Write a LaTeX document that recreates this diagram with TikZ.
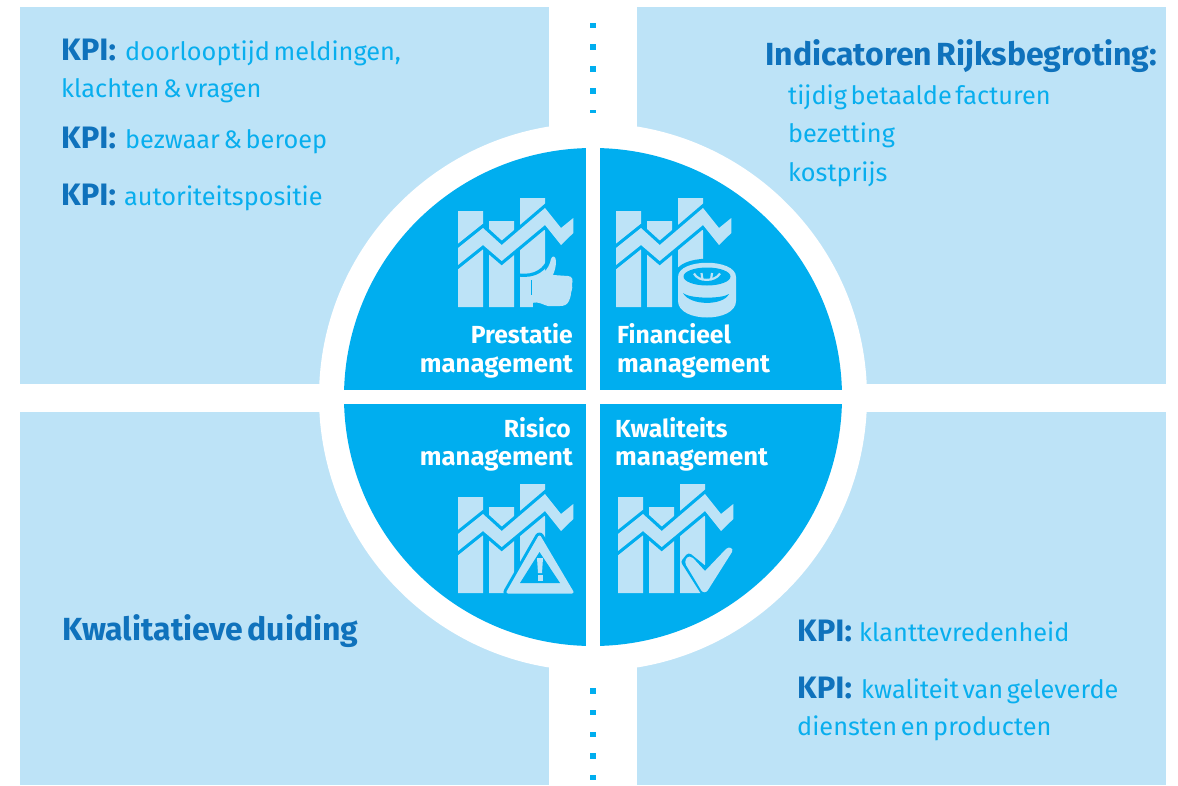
\documentclass[tikz,border=0pt]{standalone}
\usepackage{fontspec}
\setmainfont{Fira Sans}[WordSpace=0.55]
\definecolor{panel}{HTML}{BDE3F7}
\definecolor{disc}{HTML}{00AEEF}
\definecolor{kpi}{HTML}{0F72BC}
\definecolor{body}{HTML}{08AEEE}
\tikzset{
  panelbox/.style={fill=panel,draw=none},
  kpilab/.style={anchor=base west,inner sep=0pt,text=kpi,font=\fontsize{31}{31}\selectfont\bfseries},
  bodylab/.style={anchor=base west,inner sep=0pt,text=body,font=\fontsize{25.3}{26}\selectfont},
  headlab/.style={anchor=base west,inner sep=0pt,text=kpi,font=\fontsize{32}{33}\selectfont\bfseries},
  quadlab/.style={inner sep=0pt,text=white,font=\fontsize{25.7}{28}\selectfont\bfseries},
  quadtop/.style={inner sep=0pt,text=white,font=\fontsize{24.7}{28}\selectfont\bfseries},
  dotmark/.style={fill=disc,draw=none},
  halo/.style={draw=disc,line width=#1,line join=round,line cap=round},
  halo/.default=7pt
}
\newcommand{\chartbars}[2]{%
\begin{scope}[shift={(#1,#2)}]
 \fill[panel] (0,0) rectangle (25,96) (31,10) rectangle (56,96) (62,-13) rectangle (87,96);
 \draw[halo=6.5pt,line join=miter] (0,37) -- (25,17) -- (43.7,34) -- (87,-3) -- (103,17) -- (115.3,7)
   -- (115.3,22) -- (103,34) -- (87,14) -- (43.7,50) -- (25,34) -- (0,54) -- cycle;
 \fill[panel] (0,37) -- (25,17) -- (43.7,34) -- (87,-3) -- (103,17) -- (115.3,7)
   -- (115.3,22) -- (103,34) -- (87,14) -- (43.7,50) -- (25,34) -- (0,54) -- cycle;
\end{scope}}
\begin{document}
\begin{tikzpicture}[x=1pt,y=-1pt]
\useasboundingbox (0,0) rectangle (1178,785);
\fill[white] (0,0) rectangle (1178,785);
\fill[panelbox] (20,7) rectangle (549,384);
\fill[panelbox] (637,7) rectangle (1166,384);
\fill[panelbox] (20,412) rectangle (549,785);
\fill[panelbox] (637,412) rectangle (1166,785);
\fill[white] (593,397) circle[radius=274];
\begin{scope}
 \clip (593,397) circle[radius=249];
 \fill[disc] (340,140) rectangle (586,390);
 \fill[disc] (600,140) rectangle (850,390);
 \fill[disc] (340,404) rectangle (586,650);
 \fill[disc] (600,404) rectangle (850,650);
\end{scope}
% dots
\foreach \y in {25.5,47,69,91}{\fill[dotmark] (590,\y-2.7) rectangle (596,\y+2.7);}
\fill[dotmark] (590,109.5) rectangle (596,113);
\foreach \y in {691,712.5,734.5,756,777.5}{\fill[dotmark] (590,\y-2.7) rectangle (596,\y+2.7);}
% icons
\chartbars{458}{211}
\chartbars{616}{211}
\chartbars{458}{497}
\chartbars{618}{497}
% thumb
\fill[disc] (533,280) rectangle (548,309);
\draw[disc,line width=3.2pt] (519,275) .. controls (535,277) and (546,270) .. (550,256);
\fill[panel]
  (532,279) .. controls (541,276) and (549,270) .. (551,259) .. controls (552,255) and (556,256) .. (556,261)
  .. controls (556,266) and (555,270) .. (553,275) -- (568,276) .. controls (573,276) and (573,281) .. (572,284)
  .. controls (573,289) and (571,292) .. (571,293) .. controls (571,297) and (569,300) .. (569,301)
  .. controls (567,305) and (564,306) .. (560,306) -- (548,306)
  .. controls (543,305) and (539,301) .. (532,303) -- (529,307) -- (529,294) -- cycle;
\draw[disc,line width=1.4pt] (531.5,280) -- (531.5,295);
% coins
\draw[halo=8pt]
  (678,277) .. controls (678,258) and (736,258) .. (736,277) -- (736,301)
  .. controls (736,323) and (678,323) .. (678,301) -- cycle;
\fill[panel]
  (678,277) .. controls (678,258) and (736,258) .. (736,277) -- (736,301)
  .. controls (736,323) and (678,323) .. (678,301) -- cycle;
\fill[disc] (707,276.5) ellipse[x radius=23.5,y radius=9];
\fill[disc] (683,293) .. controls (690,299) and (722,299) .. (729,294)
  .. controls (723,306) and (690,306) .. (683,293) -- cycle;
\draw[panel,line width=2.2pt] (694,273.5) .. controls (698,282) and (715,282) .. (720,273.5);
\draw[panel,line width=2.2pt] (701.5,273) -- (702.5,280) (712,273) -- (711,280);
% warning
\draw[halo=9pt] (539.5,537) -- (572,592) -- (508,592) -- cycle;
\draw[panel,fill=panel,line width=3pt,line join=round] (539.5,537) -- (572,592) -- (508,592) -- cycle;
\fill[disc] (539.5,552) -- (560,583) -- (520,583) -- cycle;
\fill[panel] (537,558) -- (543,558) -- (542,573) -- (538,573) -- cycle;
\fill[panel] (537.5,575) rectangle (542.5,581);
% check
\draw[halo=7pt]
  (689,557) -- (705,570) -- (729,547) -- (733,551) -- (706,592) -- (704,592) -- (685,562) -- cycle;
\fill[panel]
  (686,559) .. controls (688,556) and (691,556) .. (693,558) -- (705,571) -- (726,549)
  .. controls (729,546) and (734,548) .. (732,552) -- (708,590) .. controls (706,593) and (703,593) .. (701,590)
  -- (686,565) .. controls (685,563) and (685,561) .. (686,559) -- cycle;
% quadrant labels
\node[quadtop,anchor=base east] (q1a) at (573,343) {Prestatie};
\node[quadlab,anchor=base east] (q1b) at (573,372) {management};
\node[quadtop,anchor=base west] (q2a) at (617,343) {Financieel};
\node[quadlab,anchor=base west] (q2b) at (617,372) {management};
\node[quadtop,anchor=base east] (q3a) at (571,437) {Risico};
\node[quadlab,anchor=base east] (q3b) at (573,465) {management};
\node[quadtop,anchor=base west] (q4a) at (615,437) {Kwaliteits};
\node[quadlab,anchor=base west] (q4b) at (615,465) {management};
% top-left
\node[kpilab] (a1) at (61,60) {KPI:};
\node[bodylab] (a2) at (125,60) {doorlooptijd meldingen,};
\node[bodylab] (a3) at (61,97) {klachten \& vragen};
\node[kpilab] (a4) at (61,148) {KPI:};
\node[bodylab] (a5) at (125,148) {bezwaar \& beroep};
\node[kpilab] (a6) at (61,205) {KPI:};
\node[bodylab] (a7) at (124,205) {autoriteitspositie};
% top-right
\node[headlab] (b1) at (765,65) {Indicatoren Rijksbegroting:};
\node[bodylab] (b2) at (788,104) {tijdig betaalde facturen};
\node[bodylab] (b3) at (788,142) {bezetting};
\node[bodylab] (b4) at (788,181) {kostprijs};
% bottom-left
\node[headlab] (c1) at (62,640) {Kwalitatieve duiding};
% bottom-right
\node[kpilab] (d1) at (797,641) {KPI:};
\node[bodylab] (d2) at (859,641) {klanttevredenheid};
\node[kpilab] (d3) at (797,698) {KPI:};
\node[bodylab] (d4) at (861,698) {kwaliteit van geleverde};
\node[bodylab] (d5) at (797,735) {diensten en producten};
\end{tikzpicture}
\end{document}
